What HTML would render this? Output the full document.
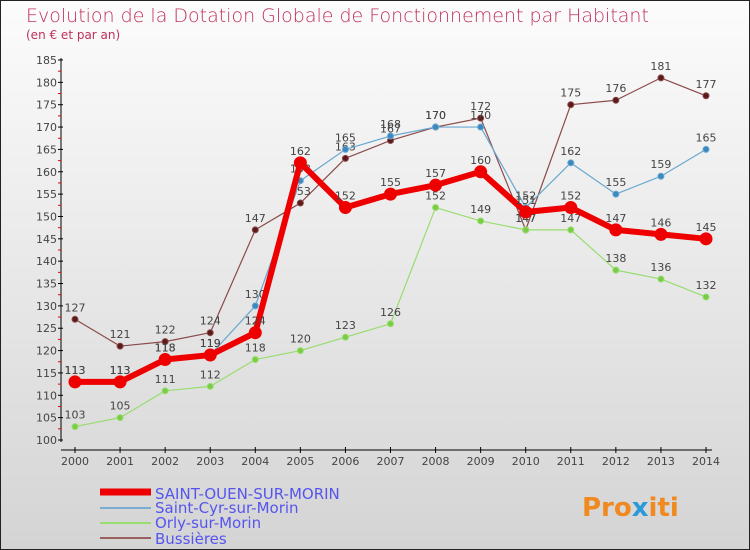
<!DOCTYPE html>
<html><head><meta charset="utf-8"><style>
body{margin:0;}
#wrap{width:750px;height:550px;position:relative;overflow:hidden;font-family:"DejaVu Sans","Liberation Sans",sans-serif;}
</style></head><body>
<div id="wrap">
<svg id="svg" width="750" height="550" xmlns="http://www.w3.org/2000/svg">
<defs><linearGradient id="bg" x1="0" y1="0" x2="0" y2="1"><stop offset="0" stop-color="#fcfcfc"/><stop offset="1" stop-color="#d4d4d4"/></linearGradient></defs>
<rect x="0.5" y="0.5" width="749" height="549" fill="url(#bg)" stroke="#222"/>
<text x="26" y="22" font-size="19" fill="#c0305a" font-weight="300">Evolution de la Dotation Globale de Fonctionnement par Habitant</text>
<text x="26" y="39" font-size="12" fill="#c0305a">(en € et par an)</text>
<g id="axes"></g><g id="series"></g>
<g>
<line x1="100" y1="492" x2="151" y2="492" stroke="#e00" stroke-width="7"/>
<text x="155" y="499" font-size="15" fill="#5555ee">SAINT-OUEN-SUR-MORIN</text>
<line x1="100" y1="508" x2="151" y2="508" stroke="#7aaed0" stroke-width="2"/>
<text x="155" y="513" font-size="15" fill="#5555ee">Saint-Cyr-sur-Morin</text>
<line x1="100" y1="523" x2="151" y2="523" stroke="#98dd70" stroke-width="2"/>
<text x="155" y="528" font-size="15" fill="#5555ee">Orly-sur-Morin</text>
<line x1="100" y1="538" x2="151" y2="538" stroke="#9a6060" stroke-width="2"/>
<text x="155" y="544" font-size="15" fill="#5555ee">Bussières</text>
</g>
<text x="582" y="516" font-size="26" font-weight="bold" fill="#f08a20">Pro<tspan fill="#2a9ad8">x</tspan>iti</text>
</svg></div>
<script>
const years=[2000,2001,2002,2003,2004,2005,2006,2007,2008,2009,2010,2011,2012,2013,2014];
const saintOuen=[113,113,118,119,124,162,152,155,157,160,151,152,147,146,145];
const saintCyr=[113,113,118,119,130,158,165,168,170,170,152,162,155,159,165];
const orly=[103,105,111,112,118,120,123,126,152,149,147,147,138,136,132];
const bussieres=[127,121,122,124,147,153,163,167,170,172,147,175,176,181,177];
const yTicks=[100,105,110,115,120,125,130,135,140,145,150,155,160,165,170,175,180,185];
const NS="http://www.w3.org/2000/svg";
function X(i){return 75+i*(706-75)/(years.length-1);}
function Y(v){return 440-(v-100)*(440-60)/85;}
function mk(t,a,p){const e=document.createElementNS(NS,t);for(const k in a)e.setAttribute(k,a[k]);p.appendChild(e);return e;}
const ax=document.getElementById('axes');
let e=mk('line',{x1:61,y1:58,x2:61,y2:442,stroke:'#000'},ax);


e=mk('line',{x1:61,y1:450,x2:712,y2:450,stroke:'#000'},ax);


yTicks.forEach(v=>{
 mk('line',{x1:58,y1:Y(v),x2:63,y2:Y(v),stroke:'#000'},ax);
 if(v<185)mk('line',{x1:58,y1:Y(v+2.5),x2:61,y2:Y(v+2.5),stroke:'#e00'},ax);
 const t=mk('text',{x:57,y:Y(v)+4,'font-size':11,fill:'#444','text-anchor':'end'},ax);t.textContent=v;
 
 
});
years.forEach((yr,i)=>{
 mk('line',{x1:X(i),y1:447,x2:X(i),y2:453,stroke:'#000'},ax);
 const t=mk('text',{x:X(i),y:465,'font-size':11,fill:'#444','text-anchor':'middle'},ax);t.textContent=yr;
 
 
});
const sg=document.getElementById('series');
function draw(data,color,w,r,name,fill){
 const g=mk('g',{},sg);
 
 
 mk('polyline',{points:data.map((v,i)=>X(i)+','+Y(v)).join(' '),fill:'none',stroke:color,'stroke-width':w,'stroke-linejoin':'round'},g);
 data.forEach((v,i)=>{
  const c=mk('circle',{cx:X(i),cy:Y(v),r:r,fill:fill,stroke:color,'stroke-width':1},g);
  
  
  const t=mk('text',{x:X(i),y:Y(v)-8,'font-size':11,fill:'#444','text-anchor':'middle'},g);t.textContent=v;
  
  
 });
}
draw(bussieres,'#8a4a4a',1.2,3,'series-bussieres','#5a1a1a');
draw(orly,'#98dd70',1.2,3,'series-orly','#7acc44');
draw(saintCyr,'#6aa8d0',1.2,3,'series-saint-cyr','#3a88c0');
draw(saintOuen,'#ee0000',6,6,'series-saint-ouen','#ee0000');
</script>
</body></html>
